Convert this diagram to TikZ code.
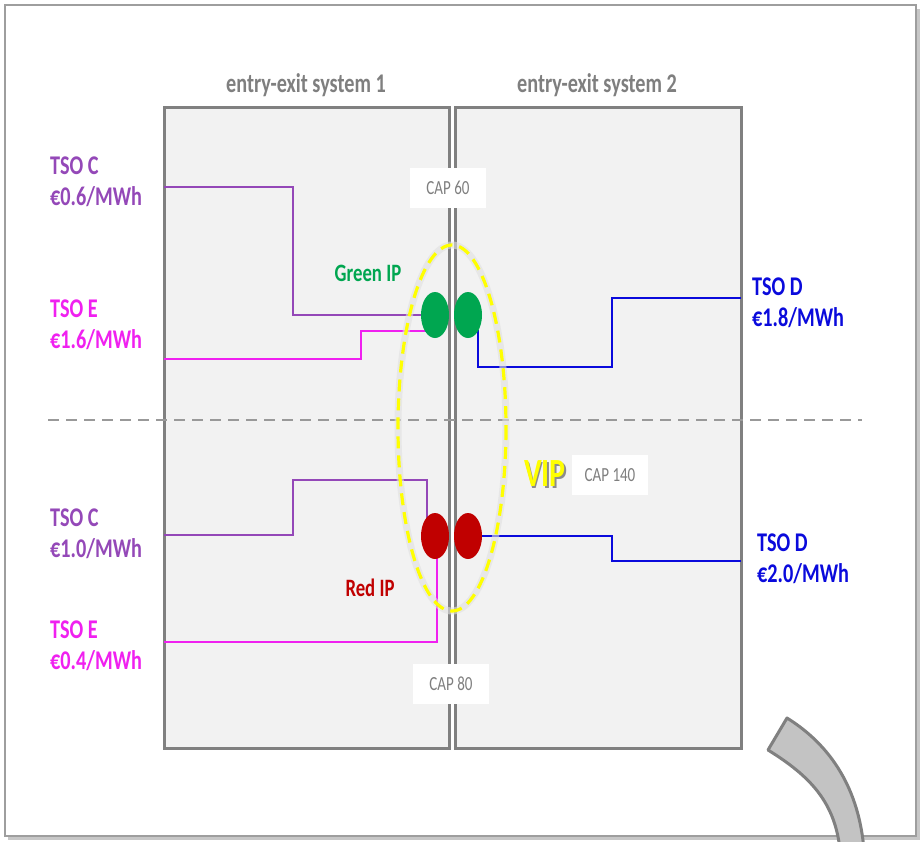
\documentclass[tikz,border=0pt]{standalone}
\usepackage{fontspec}
\setmainfont{Carlito}[FakeStretch=0.75]
\usetikzlibrary{shapes.geometric,calc}
\definecolor{boxfill}{HTML}{F2F2F2}
\definecolor{boxline}{HTML}{808080}
\definecolor{txtgray}{HTML}{7F7F7F}
\definecolor{tsopurple}{HTML}{9448B8}
\definecolor{tsomag}{HTML}{F020F0}
\definecolor{tsoblue}{HTML}{0A0ADC}
\definecolor{ipgreen}{HTML}{00A650}
\definecolor{ipred}{HTML}{C00000}
\definecolor{vipyellow}{HTML}{FFFF00}
\definecolor{arcfill}{HTML}{C3C3C3}
\begin{document}
\begin{tikzpicture}[x=1pt,y=-1pt,
  sysbox/.style={draw=boxline, fill=boxfill, line width=3pt},
  systitle/.style={text=txtgray, font=\bfseries\fontsize{27}{30}\selectfont},
  tsolabel/.style={anchor=west, align=left, font=\bfseries\fontsize{27}{31}\selectfont, inner sep=0pt},
  capbox/.style={fill=white, text=txtgray, font=\fontsize{20}{22}\selectfont, minimum width=76pt, minimum height=40pt, inner sep=0pt},
  ipdot/.style={ellipse, minimum width=28pt, minimum height=46pt, inner sep=0pt},
  iplabel/.style={font=\bfseries\fontsize{25}{28}\selectfont},
  viptext/.style={font=\bfseries\fontsize{40}{42}\selectfont},
  link/.style={line width=2.8pt}
]
\useasboundingbox (0,0) rectangle (921,841);
\fill[white] (0,0) rectangle (921,841);
% outer frame with shadow
\fill[black!22] (8,9) rectangle (920,840);
\filldraw[fill=white, draw=black!38, line width=2pt] (5,5) rectangle (916,836);

% system boxes
\draw[sysbox] (164,107) rectangle (449,748);
\draw[sysbox] (455,107) rectangle (741,748);
\node[systitle] (t1) at (306,85) {entry-exit system 1};
\node[systitle] (t2) at (597,85) {entry-exit system 2};

% separator
\draw[black!40, line width=2pt, dash pattern=on 11pt off 7pt] (48,420) -- (862,420);

% interconnection points (nodes)
\node[ipdot] (gL) at (435,315) {};
\node[ipdot] (gR) at (468,315) {};
\node[ipdot] (rL) at (435,536) {};
\node[ipdot] (rR) at (468,536) {};

% TSO labels
\node[tsolabel, text=tsopurple] (c1) at (50,182) {TSO C\\€0.6/MWh};
\node[tsolabel, text=tsomag] (e1) at (50,325) {TSO E\\€1.6/MWh};
\node[tsolabel, text=tsopurple] (c2) at (50,534) {TSO C\\€1.0/MWh};
\node[tsolabel, text=tsomag] (e2) at (50,646) {TSO E\\€0.4/MWh};
\node[tsolabel, text=tsoblue] (d1) at (752,303) {TSO D\\€1.8/MWh};
\node[tsolabel, text=tsoblue] (d2) at (757,559) {TSO D\\€2.0/MWh};

% connector start points on box edges
\coordinate (c1s) at (164,187);
\coordinate (e1s) at (164,359);
\coordinate (c2s) at (164,535);
\coordinate (e2s) at (164,642);
\coordinate (d1s) at (741,298);
\coordinate (d2s) at (741,561);

% connectors
\draw[link, tsopurple] (c1s) -- (293,187) -- (293,315) -- (gL.center);
\draw[link, tsomag] (e1s) -- (361,359) -- (361,331) -- (gL.center |- 0,331);
\draw[link, tsoblue] (d1s) -- (612,298) -- (612,367) -- (478,367) -- (478,330);
\draw[link, tsopurple] (c2s) -- (293,535) -- (293,480) -- (427,480) -- (427,525);
\draw[link, tsomag] (e2s) -- (437,642) -- (437,536);
\draw[link, tsoblue] (rR.center) -- (612,536) -- (612,561) -- (d2s);

% dots on top
\node[ipdot, fill=ipgreen] at (gL) {};
\node[ipdot, fill=ipgreen] at (gR) {};
\node[ipdot, fill=ipred] at (rL) {};
\node[ipdot, fill=ipred] at (rR) {};

% capacity labels
\node[capbox] (cap60) at (448,188) {CAP 60};
\node[capbox] (cap80) at (451,684) {CAP 80};
\node[capbox] (cap140) at (610,475) {CAP 140};

% VIP ellipse
\draw[black!12, line width=7pt, opacity=0.6] (452,428) ellipse (54 and 183);
\draw[vipyellow, line width=3.2pt, dash pattern=on 12pt off 7pt] (452,428) ellipse (54 and 183);

% IP labels
\node[iplabel, text=ipgreen] (glab) at (368,273) {Green IP};
\node[iplabel, text=ipred] (rlab) at (370,588) {Red IP};
\node[viptext, text=black!45] at (546.5,475.5) {VIP};
\node[viptext, text=vipyellow] (vip) at (545,474) {VIP};

% curved band
\filldraw[fill=arcfill, draw=boxline, line width=3pt, line join=round]
  (787,718) .. controls (832,746) and (859,790) .. (864,850)
  -- (840,850) .. controls (835,802) and (810,776) .. (768,750) -- cycle;
\end{tikzpicture}
\end{document}
